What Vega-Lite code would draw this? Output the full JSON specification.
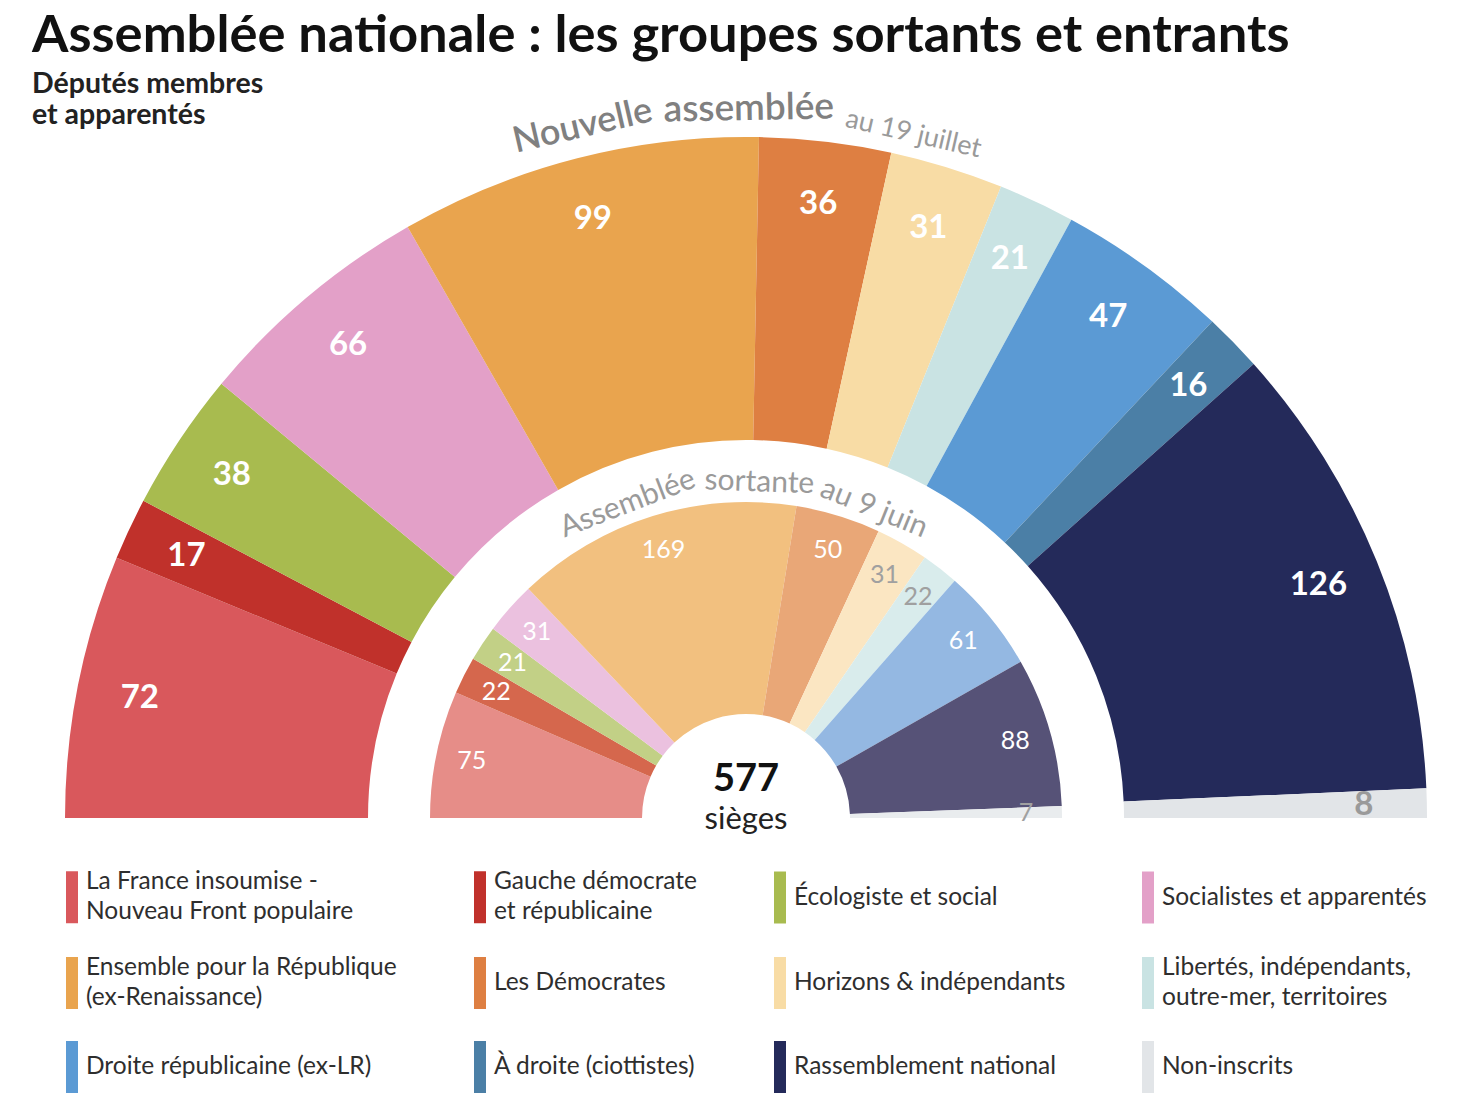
{
  "$schema": "https://vega.github.io/schema/vega-lite/v6.json",
  "autosize": {"type": "none"},
  "width": 1444,
  "height": 681,
  "padding": {"left": 24, "top": 137, "right": 0, "bottom": 292},
  "background": "white",
  "config": {
    "view": {"stroke": null},
    "font": "Lato",
    "style": {"guide-label": {"lineHeight": 30}}
  },
  "title": {
    "text": "Assemblée nationale : les groupes sortants et entrants",
    "subtitle": ["Députés membres", "et apparentés"],
    "anchor": "start",
    "frame": "group",
    "dx": 8,
    "offset": -42,
    "font": "Lato",
    "fontSize": 52.5,
    "fontWeight": "bold",
    "color": "#111111",
    "subtitleFont": "Lato",
    "subtitleFontSize": 28.5,
    "subtitleFontWeight": "bold",
    "subtitleColor": "#222222",
    "subtitleLineHeight": 31.5,
    "subtitlePadding": 6
  },
  "datasets": {
    "nouvelle": [
      {"rang": 1, "groupe": "La France insoumise - Nouveau Front populaire", "sieges": 72},
      {"rang": 2, "groupe": "Gauche démocrate et républicaine", "sieges": 17},
      {"rang": 3, "groupe": "Écologiste et social", "sieges": 38},
      {"rang": 4, "groupe": "Socialistes et apparentés", "sieges": 66},
      {"rang": 5, "groupe": "Ensemble pour la République (ex-Renaissance)", "sieges": 99},
      {"rang": 6, "groupe": "Les Démocrates", "sieges": 36},
      {"rang": 7, "groupe": "Horizons & indépendants", "sieges": 31},
      {"rang": 8, "groupe": "Libertés, indépendants, outre-mer, territoires", "sieges": 21},
      {"rang": 9, "groupe": "Droite républicaine (ex-LR)", "sieges": 47},
      {"rang": 10, "groupe": "À droite (ciottistes)", "sieges": 16},
      {"rang": 11, "groupe": "Rassemblement national", "sieges": 126},
      {"rang": 12, "groupe": "Non-inscrits", "sieges": 8}
    ],
    "sortante": [
      {"rang": 1, "groupe": "La France insoumise - Nouveau Front populaire", "sieges": 75},
      {"rang": 2, "groupe": "Gauche démocrate et républicaine", "sieges": 22},
      {"rang": 3, "groupe": "Écologiste et social", "sieges": 21},
      {"rang": 4, "groupe": "Socialistes et apparentés", "sieges": 31},
      {"rang": 5, "groupe": "Ensemble pour la République (ex-Renaissance)", "sieges": 169},
      {"rang": 6, "groupe": "Les Démocrates", "sieges": 50},
      {"rang": 7, "groupe": "Horizons & indépendants", "sieges": 31},
      {"rang": 8, "groupe": "Libertés, indépendants, outre-mer, territoires", "sieges": 22},
      {"rang": 9, "groupe": "Droite républicaine (ex-LR)", "sieges": 61},
      {"rang": 11, "groupe": "Rassemblement national", "sieges": 88},
      {"rang": 12, "groupe": "Non-inscrits", "sieges": 7}
    ]
  },
  "layer": [
    {
      "data": {"name": "nouvelle"},
      "mark": {"type": "arc", "x": {"expr": "width/2"}, "y": {"expr": "height"}, "innerRadius": 378, "outerRadius": 681, "strokeWidth": 0},
      "encoding": {
        "theta": {"field": "sieges", "type": "quantitative", "stack": true, "scale": {"domain": [0, 577], "range": [-1.5707963, 1.5707963]}},
        "order": {"field": "rang", "type": "quantitative"},
        "color": {
          "field": "groupe",
          "type": "nominal",
          "scale": {
            "domain": ["La France insoumise - Nouveau Front populaire", "Gauche démocrate et républicaine", "Écologiste et social", "Socialistes et apparentés", "Ensemble pour la République (ex-Renaissance)", "Les Démocrates", "Horizons & indépendants", "Libertés, indépendants, outre-mer, territoires", "Droite républicaine (ex-LR)", "À droite (ciottistes)", "Rassemblement national", "Non-inscrits"],
            "range": ["#d9585c", "#c0312b", "#a8bb4f", "#e3a0c8", "#e9a44e", "#de7f42", "#f8dca5", "#c9e3e3", "#5b9ad4", "#4b7fa6", "#242a5a", "#e2e5e8"]
          },
          "legend": {
            "orient": "none",
            "direction": "horizontal",
            "legendX": 22,
            "legendY": 734,
            "columns": 4,
            "title": null,
            "symbolType": "M-0.23,-1L0.23,-1L0.23,1L-0.23,1Z",
            "symbolSize": 2704,
            "symbolStrokeWidth": 0,
            "symbolOpacity": 1,
            "labelFont": "Lato",
            "labelFontSize": 24.5,
            "labelColor": "#2e2e2e",
            "labelLimit": 400,
            "labelOffset": -12,
            "rowPadding": 31,
            "columnPadding": 56,
            "labelExpr": "datum.label === 'La France insoumise - Nouveau Front populaire' ? ['La France insoumise -', 'Nouveau Front populaire'] : datum.label === 'Gauche démocrate et républicaine' ? ['Gauche démocrate', 'et républicaine'] : datum.label === 'Ensemble pour la République (ex-Renaissance)' ? ['Ensemble pour la République', '(ex-Renaissance)'] : datum.label === 'Libertés, indépendants, outre-mer, territoires' ? ['Libertés, indépendants,', 'outre-mer, territoires'] : datum.label",
            "encoding": {
              "labels": {
                "dy": {
                  "condition": {"test": "indexof(['La France insoumise - Nouveau Front populaire', 'Gauche démocrate et républicaine', 'Ensemble pour la République (ex-Renaissance)', 'Libertés, indépendants, outre-mer, territoires'], datum.value) >= 0", "value": -15},
                  "value": 0
                }
              }
            }
          }
        }
      }
    },
    {
      "data": {"name": "sortante"},
      "mark": {"type": "arc", "x": {"expr": "width/2"}, "y": {"expr": "height"}, "innerRadius": 104, "outerRadius": 316, "strokeWidth": 0},
      "encoding": {
        "theta": {"field": "sieges", "type": "quantitative", "stack": true},
        "order": {"field": "rang", "type": "quantitative"},
        "color": {
          "field": "groupe",
          "type": "nominal",
          "scale": {
            "domain": ["La France insoumise - Nouveau Front populaire", "Gauche démocrate et républicaine", "Écologiste et social", "Socialistes et apparentés", "Ensemble pour la République (ex-Renaissance)", "Les Démocrates", "Horizons & indépendants", "Libertés, indépendants, outre-mer, territoires", "Droite républicaine (ex-LR)", "Rassemblement national", "Non-inscrits"],
            "range": ["#e68d88", "#d5674d", "#c2d086", "#ebc1df", "#f2c07f", "#e9a777", "#fbe6c2", "#d9ecec", "#94b8e2", "#565277", "#e9ecee"]
          },
          "legend": null
        }
      }
    },
    {
      "data": {"name": "nouvelle"},
      "mark": {"type": "text", "x": {"expr": "width/2"}, "y": {"expr": "height"}, "radius": 618, "font": "Lato", "fontSize": 33, "fontWeight": "bold", "align": "center", "baseline": "middle"},
      "encoding": {
        "theta": {"field": "sieges", "type": "quantitative", "stack": true},
        "order": {"field": "rang", "type": "quantitative"},
        "text": {"field": "sieges", "type": "quantitative"},
        "color": {"condition": {"test": "datum.groupe === 'Non-inscrits'", "value": "#9a9a9a"}, "value": "#ffffff"}
      }
    },
    {
      "data": {"name": "sortante"},
      "mark": {"type": "text", "x": {"expr": "width/2"}, "y": {"expr": "height"}, "radius": 280, "font": "Lato", "fontSize": 25, "align": "center", "baseline": "middle"},
      "encoding": {
        "theta": {"field": "sieges", "type": "quantitative", "stack": true},
        "order": {"field": "rang", "type": "quantitative"},
        "text": {"field": "sieges", "type": "quantitative"},
        "color": {"condition": {"test": "indexof(['Horizons & indépendants', 'Libertés, indépendants, outre-mer, territoires', 'Non-inscrits'], datum.groupe) >= 0", "value": "#a0a0a0"}, "value": "#ffffff"}
      }
    },
    {
      "data": {"values": [{}]},
      "mark": {"type": "text", "text": "Nouvelle", "x": {"expr": "width/2"}, "y": {"expr": "height"}, "radius": 711, "theta": -0.232, "angle": -13, "font": "Lato", "fontSize": 36, "fontWeight": 600, "color": "#808080", "align": "center", "baseline": "middle"}
    },
    {
      "data": {"values": [{}]},
      "mark": {"type": "text", "text": "assemblée", "x": {"expr": "width/2"}, "y": {"expr": "height"}, "radius": 709, "theta": 0.004, "angle": -1, "font": "Lato", "fontSize": 37, "fontWeight": 600, "color": "#808080", "align": "center", "baseline": "middle"}
    },
    {
      "data": {"values": [{}]},
      "mark": {"type": "text", "text": "au 19 juillet", "x": {"expr": "width/2"}, "y": {"expr": "height"}, "radius": 704, "theta": 0.24, "angle": 13, "font": "Lato", "fontSize": 27, "color": "#9a9a9a", "align": "center", "baseline": "middle"}
    },
    {
      "data": {"values": [{}]},
      "mark": {"type": "text", "text": "Assemblée", "x": {"expr": "width/2"}, "y": {"expr": "height"}, "radius": 336, "theta": -0.36, "angle": -21, "font": "Lato", "fontSize": 30, "color": "#9a9a9a", "align": "center", "baseline": "middle"}
    },
    {
      "data": {"values": [{}]},
      "mark": {"type": "text", "text": "sortante", "x": {"expr": "width/2"}, "y": {"expr": "height"}, "radius": 336, "theta": 0.04, "angle": 2, "font": "Lato", "fontSize": 30, "color": "#9a9a9a", "align": "center", "baseline": "middle"}
    },
    {
      "data": {"values": [{}]},
      "mark": {"type": "text", "text": "au 9 juin", "x": {"expr": "width/2"}, "y": {"expr": "height"}, "radius": 335, "theta": 0.392, "angle": 22, "font": "Lato", "fontSize": 30, "color": "#9a9a9a", "align": "center", "baseline": "middle"}
    },
    {
      "data": {"values": [{}]},
      "mark": {"type": "text", "text": "577", "x": {"expr": "width/2"}, "y": {"expr": "height"}, "dy": -38, "font": "Lato", "fontSize": 38, "fontWeight": "bold", "color": "#111111", "align": "center", "baseline": "middle"}
    },
    {
      "data": {"values": [{}]},
      "mark": {"type": "text", "text": "sièges", "x": {"expr": "width/2"}, "y": {"expr": "height"}, "dy": 2, "font": "Lato", "fontSize": 31, "color": "#222222", "align": "center", "baseline": "middle"}
    }
  ],
  "resolve": {"scale": {"color": "independent"}}
}
